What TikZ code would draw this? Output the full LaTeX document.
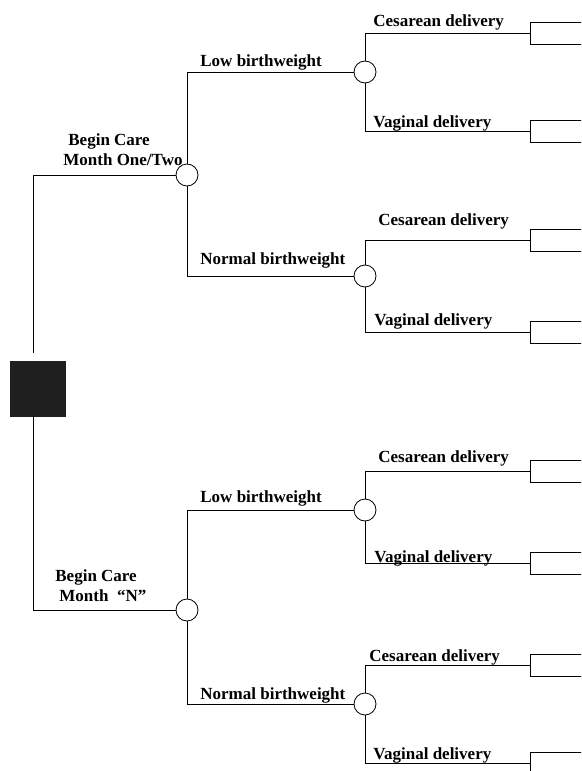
\documentclass[tikz,border=0pt]{standalone}
\usepackage{fontspec}
\setmainfont{Liberation Serif}

\begin{document}
\begin{tikzpicture}[x=1pt, y=-1pt, line width=0.8pt,
        every node/.style={font=\bfseries\fontsize{17}{20}\selectfont},
        chance/.style={circle, draw, fill=white, minimum size=22pt, inner sep=0pt},
        decision/.style={rectangle, fill=black!88, minimum size=56pt, inner sep=0pt},
        payoff/.style={rectangle, draw, anchor=west, minimum width=70pt, minimum height=22pt, inner sep=0pt},
        lbl/.style={anchor=base west, inner sep=0pt, align=left}]
        \useasboundingbox (0,0) rectangle (581,771);
        \clip (0,0) rectangle (581,771);

        % Nodes
        \node[decision] (d) at (38,389) {};
        \coordinate (up) at (33,353);
        \coordinate (dn) at (33,417);
        \node[chance] (c1) at (187,175) {};
        \node[chance] (c2) at (365,72) {};
        \node[chance] (c3) at (365,276) {};
        \node[chance] (c4) at (187,610) {};
        \node[chance] (c5) at (365,510) {};
        \node[chance] (c6) at (365,704) {};
        \node[payoff] (p1) at (530,33) {};
        \node[payoff] (p2) at (530,131) {};
        \node[payoff] (p3) at (530,240) {};
        \node[payoff] (p4) at (530,332) {};
        \node[payoff] (p5) at (530,471) {};
        \node[payoff] (p6) at (530,563) {};
        \node[payoff] (p7) at (530,665) {};
        \node[payoff] (p8) at (530,763) {};

        % Edges
        \draw (up) |- (c1);
        \draw (dn) |- (c4);
        \draw (c1) |- (c2);
        \draw (c1) |- (c3);
        \draw (c4) |- (c5);
        \draw (c4) |- (c6);
        \draw (c2) |- (p1);
        \draw (c2) |- (p2);
        \draw (c3) |- (p3);
        \draw (c3) |- (p4);
        \draw (c5) |- (p5);
        \draw (c5) |- (p6);
        \draw (c6) |- (p7);
        \draw (c6) |- (p8);

        % Labels
        \node[lbl] (care1) at (63,165) {\hspace*{5pt}Begin Care\\Month One/Two};
        \node[lbl] (care2) at (55,601) {Begin Care\\\hspace*{4pt}Month\ \ “N”};
        \node[lbl] (low1) at (200,66) {Low birthweight};
        \node[lbl] (norm1) at (200,264) {Normal birthweight};
        \node[lbl] (low2) at (200,502) {Low birthweight};
        \node[lbl] (norm2) at (200,699) {Normal birthweight};
        \node[lbl] (ces1) at (373,27) {Cesarean delivery};
        \node[lbl] (vag1) at (373,127) {Vaginal delivery};
        \node[lbl] (ces2) at (378,225) {Cesarean delivery};
        \node[lbl] (vag2) at (374,325) {Vaginal delivery};
        \node[lbl] (ces3) at (378,462) {Cesarean delivery};
        \node[lbl] (vag3) at (374,562) {Vaginal delivery};
        \node[lbl] (ces4) at (369,661) {Cesarean delivery};
        \node[lbl] (vag4) at (373,759) {Vaginal delivery};
    \end{tikzpicture}
\end{document}
